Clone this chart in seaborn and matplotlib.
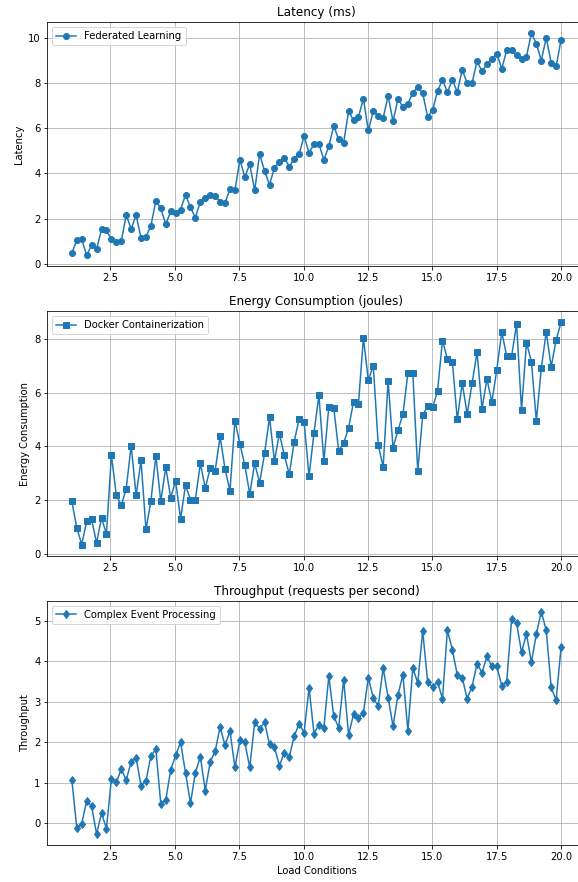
import numpy as np
import matplotlib
matplotlib.use("Agg")
import matplotlib.pyplot as plt
import seaborn as sns

# load conditions (x axis) shared by all three panels
load_conditions = np.linspace(1, 20, 100)

latency_ms = [
    0.48, 1.05, 1.08, 0.38, 0.82, 0.65, 1.52, 1.48, 1.08, 0.95,
    1.00, 2.16, 1.55, 2.15, 1.15, 1.20, 1.68, 2.80, 2.45, 1.75,
    2.32, 2.25, 2.40, 3.05, 2.50, 2.05, 2.75, 2.90, 3.05, 3.00,
    2.75, 2.70, 3.30, 3.25, 4.60, 3.85, 4.40, 3.25, 4.85, 4.10,
    3.50, 4.25, 4.50, 4.70, 4.30, 4.65, 4.85, 5.65, 4.90, 5.30,
    5.30, 4.60, 5.20, 6.10, 5.50, 5.35, 6.75, 6.35, 6.50, 7.30,
    5.90, 6.75, 6.55, 6.45, 7.43, 6.30, 7.30, 6.93, 7.08, 7.56,
    7.83, 7.55, 6.50, 6.79, 7.64, 8.13, 7.60, 8.13, 7.60, 8.57,
    8.00, 8.01, 8.96, 8.51, 8.82, 9.07, 9.29, 8.63, 9.44, 9.44,
    9.25, 9.07, 9.16, 10.20, 9.74, 8.99, 10.00, 8.89, 8.73, 9.90,
]

energy_joules = [
    1.96, 0.98, 0.36, 1.23, 1.29, 0.42, 1.34, 0.76, 3.68, 2.19,
    1.81, 2.43, 4.03, 2.19, 3.48, 0.92, 1.98, 3.66, 1.96, 3.23,
    2.10, 2.72, 1.32, 2.56, 2.03, 2.03, 3.37, 2.46, 3.19, 3.10,
    4.37, 3.16, 2.35, 4.96, 4.10, 3.30, 2.24, 3.37, 2.65, 3.74,
    5.09, 3.45, 4.48, 3.67, 2.96, 4.18, 5.03, 4.90, 2.90, 4.50,
    5.90, 3.45, 5.46, 5.42, 3.84, 4.13, 4.68, 5.66, 5.57, 8.03,
    6.45, 7.00, 4.07, 3.23, 6.43, 3.95, 4.60, 5.20, 6.71, 6.71,
    3.09, 5.15, 5.50, 5.45, 6.05, 7.93, 7.25, 7.15, 5.00, 6.35,
    5.20, 6.35, 7.50, 5.40, 6.50, 5.65, 6.85, 8.25, 7.35, 7.35,
    8.55, 5.35, 7.85, 7.15, 4.95, 6.90, 8.25, 6.95, 7.95, 8.60,
]

throughput_rps = [
    1.07, -0.12, -0.01, 0.56, 0.42, -0.26, 0.25, -0.13, 1.10, 1.01,
    1.34, 1.07, 1.52, 1.62, 0.93, 1.05, 1.67, 1.83, 0.48, 0.57,
    1.32, 1.68, 2.00, 1.25, 0.50, 1.25, 1.65, 0.81, 1.52, 1.78,
    2.38, 1.93, 2.28, 1.38, 2.05, 2.00, 1.38, 2.50, 2.34, 2.50,
    1.95, 1.89, 1.42, 1.75, 1.64, 2.16, 2.46, 2.24, 3.35, 2.22,
    2.44, 2.36, 3.64, 2.65, 2.36, 3.55, 2.19, 2.69, 2.60, 2.73,
    3.60, 3.10, 2.90, 3.84, 3.11, 2.40, 3.18, 3.67, 2.29, 3.84,
    3.47, 4.75, 3.50, 3.37, 3.50, 3.08, 4.77, 4.29, 3.67, 3.60,
    3.08, 3.38, 3.95, 3.72, 4.13, 3.88, 3.88, 3.40, 3.50, 5.05,
    4.95, 4.23, 4.68, 3.98, 4.68, 5.23, 4.77, 3.36, 3.04, 4.35,
]

panels = [
    (latency_ms, "Federated Learning", "o", "Latency (ms)", "Latency"),
    (energy_joules, "Docker Containerization", "s", "Energy Consumption (joules)", "Energy Consumption"),
    (throughput_rps, "Complex Event Processing", "d", "Throughput (requests per second)", "Throughput"),
]

blue = "#1f77b4"
fig, axes = plt.subplots(3, 1, figsize=(578 / 72, 882 / 72), dpi=72)
# the original is cropped on the right, so the axes run past the figure edge
fig.subplots_adjust(left=0.082, right=1.013, top=0.975, bottom=0.042, hspace=0.184)

for ax, (values, name, marker, title, ylabel) in zip(axes, panels):
    sns.lineplot(x=load_conditions, y=values, marker=marker, markersize=6,
                 markeredgewidth=1, markeredgecolor=blue, color=blue,
                 label=name, ax=ax)
    ax.set_title(title)
    ax.set_ylabel(ylabel)
    ax.grid(True)
    ax.legend(loc="upper left")

axes[-1].set_xlabel("Load Conditions")

plt.savefig("out.png", dpi=72)
plt.close()
